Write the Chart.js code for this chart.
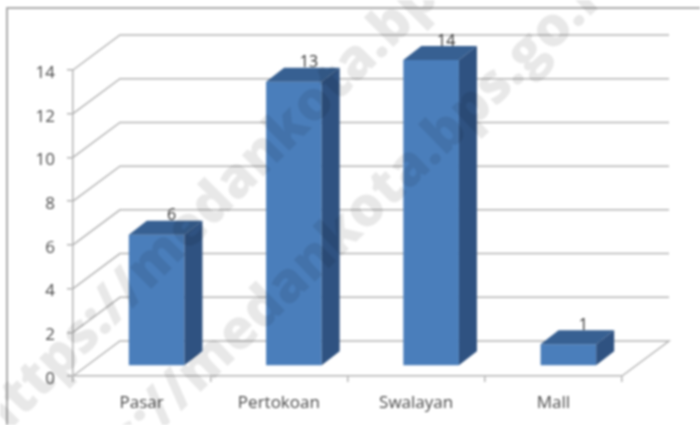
<!DOCTYPE html>
<html>
<head>
<meta charset="utf-8">
<style>
  html, body { margin: 0; padding: 0; background: #fff; }
  canvas { display: block; filter: blur(0.8px); }
</style>
</head>
<body>
<canvas id="shopChart" width="700" height="425"></canvas>
<script src="https://cdn.jsdelivr.net/npm/chart.js@4/dist/chart.umd.min.js"></script>
<script>
const CATEGORIES = ['Pasar', 'Pertokoan', 'Swalayan', 'Mall'];
const VALUES = [6, 13, 14, 1];
const WATERMARK = 'https://medankota.bps.go.id';

const GRID_COLOR = '#b4b4b4';
const TEXT_COLOR = '#4a4a4a';
// depth of the fake 3d room and of the bars
const ROOM_DX = 47, ROOM_DY = 35;
const BAR_DX = 18, BAR_DY = 14;
const BAR_SHIFT_X = 15, BAR_SHIFT_Y = -10;

const room3d = {
  id: 'room3d',
  beforeDatasetsDraw(chart) {
    const { ctx, scales: { x, y }, chartArea: area } = chart;
    ctx.save();
    // frame, only left and top show
    ctx.strokeStyle = '#909090';
    ctx.lineWidth = 1.5;
    ctx.beginPath();
    ctx.moveTo(7, 425);
    ctx.lineTo(7, 8);
    ctx.lineTo(700, 8);
    ctx.stroke();
    // gridlines go up the left wall and along the back wall
    ctx.strokeStyle = GRID_COLOR;
    y.ticks.forEach((tick) => {
      const py = y.getPixelForValue(tick.value);
      ctx.beginPath();
      ctx.moveTo(area.left, py);
      ctx.lineTo(area.left + ROOM_DX, py - ROOM_DY);
      ctx.lineTo(area.right + ROOM_DX, py - ROOM_DY);
      if (tick.value === 0) ctx.lineTo(area.right, py);
      ctx.stroke();
      // y labels sit a bit below their tick, the scale cannot do that itself
      ctx.fillStyle = TEXT_COLOR;
      ctx.font = '17px "Open Sans"';
      ctx.textAlign = 'right';
      ctx.textBaseline = 'middle';
      ctx.fillText(tick.label, area.left - 18, py + 3);
    });
    ctx.restore();

    ctx.save();
    ctx.translate(BAR_SHIFT_X, BAR_SHIFT_Y);
  },
  afterDatasetsDraw(chart) {
    const { ctx } = chart;
    chart.getDatasetMeta(0).data.forEach((bar, i) => {
      const left = bar.x - bar.width / 2;
      const right = bar.x + bar.width / 2;
      // top
      ctx.fillStyle = '#376092';
      ctx.beginPath();
      ctx.moveTo(left, bar.y);
      ctx.lineTo(left + BAR_DX, bar.y - BAR_DY);
      ctx.lineTo(right + BAR_DX, bar.y - BAR_DY);
      ctx.lineTo(right, bar.y);
      ctx.closePath();
      ctx.fill();
      // side
      ctx.fillStyle = '#2f5281';
      ctx.beginPath();
      ctx.moveTo(right, bar.y);
      ctx.lineTo(right + BAR_DX, bar.y - BAR_DY);
      ctx.lineTo(right + BAR_DX, bar.base - BAR_DY);
      ctx.lineTo(right, bar.base);
      ctx.closePath();
      ctx.fill();
      // value label
      ctx.fillStyle = '#303030';
      ctx.font = '16px "Open Sans"';
      ctx.textAlign = 'center';
      ctx.textBaseline = 'middle';
      ctx.fillText(String(VALUES[i]), bar.x + 15, bar.y - 19);
    });
    ctx.restore();
  },
  afterDraw(chart) {
    const { ctx } = chart;
    ctx.save();
    ctx.fillStyle = 'rgba(0,0,0,0.09)';
    ctx.font = '800 55px "Open Sans"';
    ctx.textBaseline = 'middle';
    [[-15, 433, 45], [32, 533, 44]].forEach(([wx, wy, deg]) => {
      ctx.save();
      ctx.translate(wx, wy);
      ctx.rotate(-deg * Math.PI / 180);
      ctx.fillText(WATERMARK, 0, 0);
      ctx.restore();
    });
    ctx.restore();
  }
};

const shopChart = new Chart(document.getElementById('shopChart').getContext('2d'), {
  type: 'bar',
  data: {
    labels: CATEGORIES,
    datasets: [{
      data: VALUES,
      backgroundColor: '#4a7ebb',
      categoryPercentage: 1,
      barPercentage: 0.405
    }]
  },
  options: {
    responsive: false,
    animation: false,
    layout: { padding: { top: 70, right: 78, left: 0, bottom: 0 } },
    plugins: { legend: { display: false }, tooltip: { enabled: false } },
    scales: {
      x: {
        afterFit(scale) { scale.height = 49; },
        grid: { drawOnChartArea: false, color: GRID_COLOR, tickLength: 6, lineWidth: 1.5 },
        border: { color: GRID_COLOR, width: 1.5 },
        ticks: { color: TEXT_COLOR, font: { family: 'Open Sans', size: 17 }, padding: 11, maxRotation: 0 }
      },
      y: {
        min: 0,
        max: 14,
        afterFit(scale) { scale.width = 73; },
        grid: { drawOnChartArea: false, color: GRID_COLOR, tickLength: 6, lineWidth: 1.5 },
        border: { color: GRID_COLOR, width: 1.5 },
        ticks: { stepSize: 2, display: false }
      }
    }
  },
  plugins: [room3d]
});
</script>
</body>
</html>
